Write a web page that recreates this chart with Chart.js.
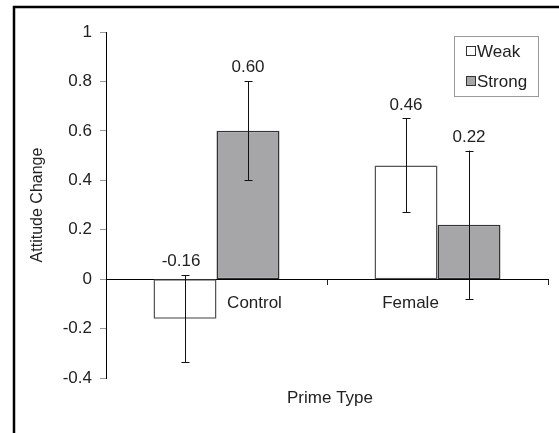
<!DOCTYPE html>
<html>
<head>
<meta charset="utf-8">
<script src="https://cdn.jsdelivr.net/npm/chart.js@4.4.0/dist/chart.umd.min.js"></script>
<style>
    html, body { margin: 0; padding: 0; background: #fff; overflow: hidden; }
    canvas { display: block; }
</style>
</head>
<body>
<canvas id="attitudechart" width="559" height="433"></canvas>
<script>
// values
let categories = ['Control', 'Female']
let seriesLabels = ['Weak', 'Strong']
let weakValues = [-0.16, 0.46]
let strongValues = [0.60, 0.22]
let weakErrors = [0.175, 0.19]
let strongErrors = [0.20, 0.30]
let yTicks = { min: -0.4, max: 1, step: 0.2 }

const FONT = '"Liberation Sans", Arial, sans-serif'
Chart.defaults.font.family = FONT
Chart.defaults.font.size = 17
Chart.defaults.color = '#222'

// black frame line on the left and top of the figure
const framePlugin = {
    id: 'frame',
    beforeDraw(chart) {
        const ctx = chart.ctx
        ctx.save()
        ctx.strokeStyle = '#000'
        ctx.lineWidth = 2.5
        ctx.beginPath()
        ctx.moveTo(14, chart.height)
        ctx.lineTo(14, 7)
        ctx.lineTo(chart.width, 7)
        ctx.stroke()
        ctx.restore()
    }
}

// error bars, value labels, category names and x title
const errorPlugin = {
    id: 'errors',
    afterDatasetsDraw(chart) {
        const ctx = chart.ctx
        const y = chart.scales.y
        const x = chart.scales.x
        ctx.save()
        chart.data.datasets.forEach((ds, i) => {
            const meta = chart.getDatasetMeta(i)
            meta.data.forEach((bar, j) => {
                const v = ds.data[j]
                const e = ds.errors[j]
                const top = y.getPixelForValue(v + e)
                const bot = y.getPixelForValue(v - e)
                const bx = Math.round(bar.x) + 0.5
                ctx.strokeStyle = '#111'
                ctx.lineWidth = 1
                ctx.beginPath()
                ctx.moveTo(bx, top)
                ctx.lineTo(bx, bot)
                ctx.moveTo(bx - 4, Math.round(top) + 0.5)
                ctx.lineTo(bx + 4, Math.round(top) + 0.5)
                ctx.moveTo(bx - 4, Math.round(bot) + 0.5)
                ctx.lineTo(bx + 4, Math.round(bot) + 0.5)
                ctx.stroke()

                ctx.fillStyle = '#222'
                ctx.font = '17px ' + FONT
                ctx.textAlign = 'center'
                ctx.textBaseline = 'alphabetic'
                ctx.fillText(v.toFixed(2), bar.x - (v < 0 ? 4 : 0), top - 9)
            })
        })

        // category names sit just under the zero line, Excel style
        const shift = [38, -27]
        const zero = y.getPixelForValue(0)
        ctx.font = '17px ' + FONT
        ctx.textAlign = 'center'
        ctx.textBaseline = 'middle'
        chart.data.labels.forEach((lab, j) => {
            ctx.fillText(lab, x.getPixelForValue(j) + shift[j], zero + 24)
        })

        const area = chart.chartArea
        ctx.fillText('Prime Type', (area.left + area.right) / 2 + 3, area.bottom + 20)
        ctx.restore()
    }
}

// boxed legend inside the plot, top right
const legendPlugin = {
    id: 'boxLegend',
    afterDraw(chart) {
        const ctx = chart.ctx
        const area = chart.chartArea
        const w = 84, h = 60
        const left = area.right - 10 - w
        const top = area.top + 4
        ctx.save()
        ctx.fillStyle = '#fff'
        ctx.fillRect(left, top, w, h)
        ctx.strokeStyle = '#999'
        ctx.lineWidth = 1
        ctx.strokeRect(left + 0.5, top + 0.5, w, h)
        ctx.font = '17px ' + FONT
        ctx.textBaseline = 'middle'
        ctx.textAlign = 'left'
        chart.data.datasets.forEach((ds, i) => {
            const cy = top + 15 + i * 30
            ctx.fillStyle = ds.backgroundColor
            ctx.fillRect(left + 12.5, cy - 4.5, 9, 9)
            ctx.strokeStyle = '#333'
            ctx.strokeRect(left + 12.5, cy - 4.5, 9, 9)
            ctx.fillStyle = '#222'
            ctx.fillText(ds.label, left + 23, cy + 1)
        })
        ctx.restore()
    }
}

new Chart(document.querySelector('#attitudechart').getContext('2d'), {
    type: 'bar',
    data: {
        labels: categories,
        datasets: [
            {
                label: seriesLabels[0],
                data: weakValues,
                errors: weakErrors,
                backgroundColor: '#ffffff',
                borderColor: '#555',
                borderWidth: 1.5,
                borderSkipped: false
            },
            {
                label: seriesLabels[1],
                data: strongValues,
                errors: strongErrors,
                backgroundColor: '#a6a6a8',
                borderColor: '#333',
                borderWidth: 1.5,
                borderSkipped: false
            }
        ]
    },
    options: {
        responsive: false,
        animation: false,
        categoryPercentage: 0.57,
        barPercentage: 1,
        layout: {
            padding: { left: 28, top: 32, right: 11, bottom: 55 }
        },
        plugins: {
            legend: { display: false },
            tooltip: { enabled: false }
        },
        scales: {
            x: {
                position: { y: 0 },
                ticks: { display: false },
                grid: {
                    drawOnChartArea: false,
                    drawTicks: true,
                    tickLength: 5,
                    color: '#222',
                    offset: true
                },
                border: { color: '#000' }
            },
            y: {
                min: yTicks.min,
                max: yTicks.max,
                ticks: {
                    stepSize: yTicks.step,
                    padding: 8,
                    font: { size: 17 },
                    callback: (v) => String(Math.round(v * 10) / 10)
                },
                grid: {
                    drawOnChartArea: false,
                    drawTicks: true,
                    tickLength: 6,
                    color: '#999'
                },
                border: { color: '#000' },
                title: {
                    display: true,
                    text: 'Attitude Change',
                    font: { size: 16 },
                    padding: 0
                },
                afterFit: (scale) => { scale.width = 78 }
            }
        }
    },
    plugins: [framePlugin, errorPlugin, legendPlugin]
});
</script>
</body>
</html>
